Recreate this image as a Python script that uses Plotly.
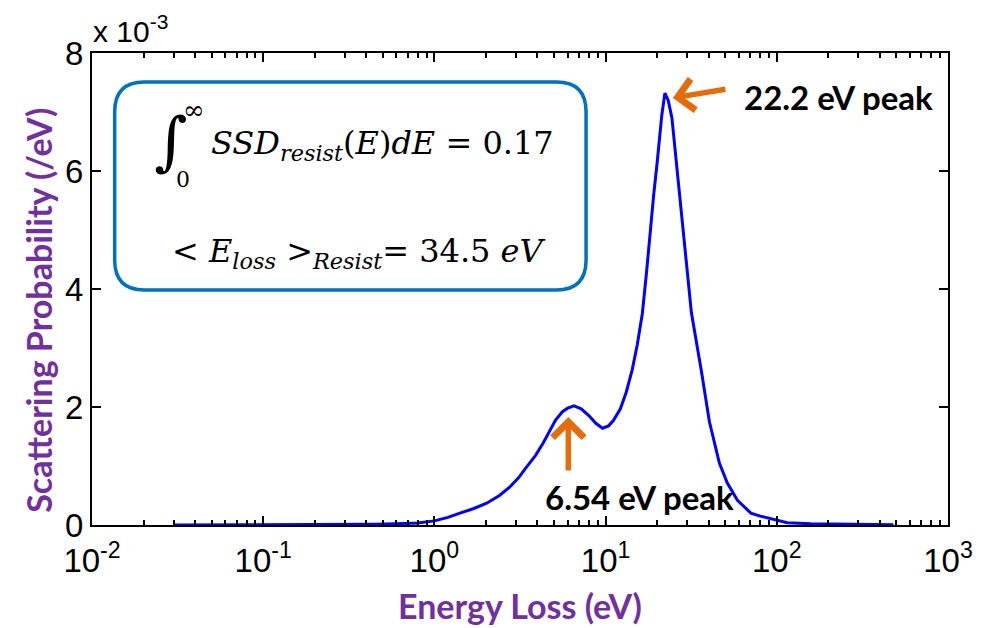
import numpy as np
import plotly.graph_objects as go

# ---------------- data ----------------
energy_eV = [0.03, 0.05, 0.1, 0.2, 0.3, 0.45, 0.6, 0.8, 1.0, 1.2, 1.41, 1.7, 2.02, 2.4,
             2.75, 3.1, 3.45, 3.9, 4.32, 4.7, 5.1, 5.6, 6.0, 6.54, 7.2, 7.95, 8.8, 9.6,
             10.4, 11.1, 12.2, 13.2, 14.3, 15.3, 16.4, 17.3, 18.2, 19.1, 20.0, 21.3,
             22.2, 23.2, 24.4, 26.4, 28.9, 31.7, 36.3, 40.4, 46.2, 51.4, 58.9, 70.6,
             80, 92, 115, 158, 250, 350, 480]
prob_e3 = [0.0, 0.0, 0.001, 0.003, 0.006, 0.012, 0.02, 0.035, 0.07, 0.13, 0.2, 0.28,
           0.37, 0.5, 0.64, 0.8, 0.98, 1.18, 1.39, 1.58, 1.78, 1.92, 1.98, 2.02, 1.97,
           1.86, 1.72, 1.64, 1.68, 1.77, 1.97, 2.25, 2.63, 3.05, 3.59, 4.25, 5.0, 5.6,
           6.14, 6.95, 7.32, 7.2, 6.9, 5.9, 4.75, 3.6, 2.6, 1.75, 1.05, 0.71, 0.42, 0.2,
           0.15, 0.11, 0.04, 0.02, 0.01, 0.005, 0.003]
y_scale = 1e-3
y_tick_vals = [0, 2, 4, 6, 8]
x_tick_exps = [-2, -1, 0, 1, 2, 3]
x_minor_ticks = [m * 10 ** e for e in x_tick_exps[:-1] for m in range(2, 10)]

# ---------------- geometry helpers ----------------
W, H = 985, 628
L, R, T, B = 92, 25, 53, 103
PW, PH = W - L - R, H - T - B


def px(x):
    return (x - L) / PW


def py(y):
    return (H - B - y) / PH


fig = go.Figure()
fig.add_trace(go.Scatter(
    x=energy_eV, y=[v * y_scale for v in prob_e3], mode="lines",
    line=dict(color="#0000FF", width=3), showlegend=False))

tickfont = dict(family="Liberation Sans, Arial", size=33, color="black")
fig.update_layout(
    width=W, height=H, margin=dict(l=L, r=R, t=T, b=B),
    paper_bgcolor="white", plot_bgcolor="white",
    xaxis=dict(type="log", range=[-2, 3],
               tickvals=[10 ** e for e in x_tick_exps],
               ticktext=[f"10<sup>{e}</sup>" for e in x_tick_exps],
               ticks="inside", ticklen=9, tickwidth=2, tickcolor="black",
               minor=dict(tickvals=x_minor_ticks, ticks="inside", ticklen=5, tickwidth=2,
                          tickcolor="black", showgrid=False),
               showline=True, linecolor="black", linewidth=2, mirror="allticks",
               showgrid=False, zeroline=False, tickfont=tickfont, ticklabelstandoff=5),
    yaxis=dict(range=[0, 8 * y_scale],
               tickvals=[v * y_scale for v in y_tick_vals],
               ticktext=[str(v) for v in y_tick_vals],
               ticks="inside", ticklen=9, tickwidth=2, tickcolor="black",
               showline=True, linecolor="black", linewidth=2, mirror="allticks",
               showgrid=False, zeroline=False, tickfont=tickfont),
)

purple = "#7030A0"
orange = "#E46C0A"
labfont = "Lato, Carlito, Calibri, sans-serif"
serif = "DejaVu Serif, Liberation Serif, serif"
ann = []


def add_text(text, x, y, size, family, color="black", xanchor="center", yanchor="middle", **kw):
    ann.append(dict(text=text, x=px(x), y=py(y), xref="paper", yref="paper",
                    xanchor=xanchor, yanchor=yanchor, showarrow=False,
                    font=dict(family=family, size=size, color=color), **kw))


# axis titles
add_text("<b>Energy Loss (eV)</b>", 526, 605, 34, labfont, purple)
add_text("<b>Scattering Probability (/eV)</b>", 37, 310, 34, labfont, purple, textangle=-90)
# exponent label
add_text("x 10<sup>-3</sup>", 91, 50, 30, "Liberation Sans, Arial", xanchor="left", yanchor="bottom")

# equations
add_text("∫", 172, 141, 64, serif)
add_text("∞", 195, 110, 26, serif)
add_text("0", 184, 180, 22, serif)
add_text("<i>SSD</i><sub><i>resist</i></sub>(<i>E</i>)<i>dE</i> = 0.17", 211, 145, 32, serif,
         xanchor="left")
add_text("&lt; <i>E</i><sub><i>loss</i></sub> &gt;<sub><i>Resist</i></sub>= 34.5 <i>eV</i>",
         171, 253, 32, serif, xanchor="left")

# peak labels
add_text("<b>22.2 eV peak</b>", 751, 97, 33, labfont, xanchor="left")
add_text("<b>6.54 eV peak</b>", 647, 497, 33, labfont)
# arrows
ann.append(dict(text="", x=px(681), y=py(98), xref="paper", yref="paper", ax=54, ay=-9,
                showarrow=True, arrowhead=4, arrowsize=1.1, arrowwidth=5.5, arrowcolor=orange))
ann.append(dict(text="", x=px(575), y=py(417), xref="paper", yref="paper", ax=0, ay=55,
                showarrow=True, arrowhead=4, arrowsize=1.1, arrowwidth=5.5, arrowcolor=orange))
fig.update_layout(annotations=ann)

# rounded box
x0, x1, y0, y1, r = 115, 593, 82, 290, 30


def P(x, y):
    return f"{px(x)} {py(y)}"


path = (f"M {P(x0 + r, y0)} L {P(x1 - r, y0)} Q {P(x1, y0)} {P(x1, y0 + r)} "
        f"L {P(x1, y1 - r)} Q {P(x1, y1)} {P(x1 - r, y1)} L {P(x0 + r, y1)} "
        f"Q {P(x0, y1)} {P(x0, y1 - r)} L {P(x0, y0 + r)} Q {P(x0, y0)} {P(x0 + r, y0)} Z")
fig.add_shape(type="path", path=path, xref="paper", yref="paper",
              line=dict(color="#0070C0", width=3.5), fillcolor="rgba(0,0,0,0)")

fig.write_html("out.html")
